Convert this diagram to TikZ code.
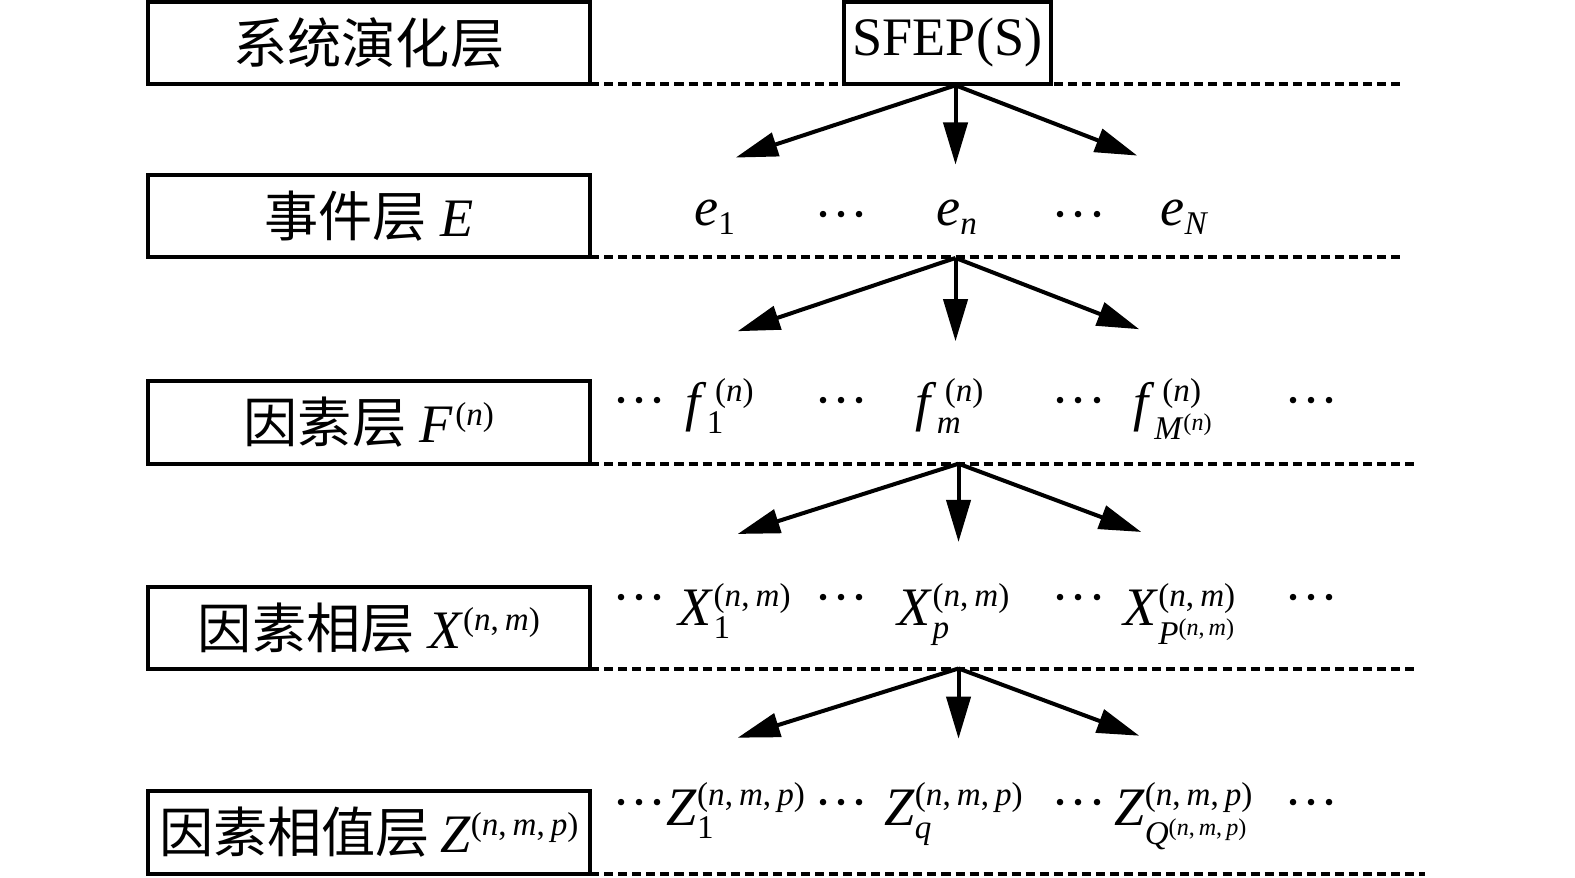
\documentclass[tikz,border=0pt]{standalone}
\usepackage{fontspec}
\setmainfont{Liberation Serif}
\newfontfamily\cjk{Noto Sans CJK SC}
\usetikzlibrary{arrows.meta}
\newcommand\ssz{\fontsize{16.5}{16.5}\selectfont}
\newcommand\sssz{\fontsize{12}{12}\selectfont}
\newcommand\ii[1]{\textit{#1}}
% #1 kern before sup, #2 base, #3 sub, #4 sub drop, #5 sup
\newcommand\SSg[5]{#2\begingroup\ssz
  \setbox0\hbox{\raisebox{-#4}{#3}}%
  \setbox2\hbox{\kern#1\raisebox{9.5pt}{#5}}%
  \ifdim\wd0>\wd2 \rlap{\box2}\box0 \else\rlap{\box0}\box2 \fi\endgroup}
\newcommand\SubSup[4][0pt]{\SSg{#1}{#2}{#3}{6.5pt}{#4}}
\newcommand\SubSupL[4][0pt]{\SSg{#1}{#2}{#3}{9.5pt}{#4}}
\newcommand\Sub[2]{#1\begingroup\ssz\raisebox{-4.5pt}{#2}\endgroup}
\newcommand\Sup[3][0pt]{#2\begingroup\ssz\kern#1\raisebox{8.75pt}{#3}\endgroup}
\newcommand\dd{\textperiodcentered\textperiodcentered\textperiodcentered}
\newcommand\cm{,\kern3pt}
\newcommand\scm{,\kern2pt}
\begin{document}
\begin{tikzpicture}[x=0.5pt,y=-0.5pt,
  font=\fontsize{27}{32}\selectfont,
  layerbox/.style={draw,line width=2pt,minimum width=220.5pt,minimum height=41pt,inner sep=0pt,outer sep=0pt,fill=white},
  lvl/.style={line width=2pt,dash pattern=on 4.5pt off 2.5pt},
  arr/.style={line width=2pt,-{Triangle[length=21pt,width=12pt]}},
  item/.style={anchor=base,inner sep=0pt},
]
\useasboundingbox (0,0) rectangle (1569.2,873.8);

% layer boxes
\node[layerbox] (b1) at (367.5,42.5) {{\cjk 系统演化层}};
\node[layerbox] (b2) at (367.5,215.5) {{\cjk 事件层} \ii{E}};
\node[layerbox] (b3) at (367.5,421) {{\cjk 因素层} \Sup[1pt]{\ii{F}}{(\ii{n})}};
\node[layerbox] (b4) at (367.5,625.5) {{\cjk 因素相层} \Sup{\ii{X}}{(\ii{n}\cm\ii{m})}};
\node[layerbox] (b5) at (367.5,829.5) {{\cjk 因素相值层}\kern5pt\Sup{\ii{Z}}{(\ii{n}\cm\ii{m}\cm\ii{p})}};

% dashed level lines
\coordinate (d1) at (1397,83);
\coordinate (d2) at (1400,256);
\coordinate (d3) at (1410,461);
\coordinate (d4) at (1413,666);
\coordinate (d5) at (1420,870);
\draw[lvl] (b1.south east) -- (b1.south east -| d1);
\draw[lvl] (b2.south east) -- (b2.south east -| d2);
\draw[lvl] (b3.south east) -- (b3.south east -| d3);
\draw[lvl] (b4.south east) -- (b4.south east -| d4);
\draw[lvl] (b5.south east) -- (b5.south east -| d5);

% top node
\node[layerbox,minimum width=103pt] (s) at (944,42.5) {SFEP(S)};

% arrows
\coordinate (o1) at (952,85);
\coordinate (o2) at (952,257);
\coordinate (o3) at (955,462);
\coordinate (o4) at (955,666);
\coordinate (t1l) at (733,157); \coordinate (t1m) at (952,164); \coordinate (t1r) at (1133,155);
\coordinate (t2l) at (735,330); \coordinate (t2m) at (952,340); \coordinate (t2r) at (1135,328);
\coordinate (t3l) at (735,532); \coordinate (t3m) at (955,540); \coordinate (t3r) at (1137,530);
\coordinate (t4l) at (735,735); \coordinate (t4m) at (955,736); \coordinate (t4r) at (1135,733);
\foreach \i in {1,2,3,4}{
  \draw[arr] (o\i) -- (t\i l);
  \draw[arr] (o\i) -- (t\i m);
  \draw[arr] (o\i) -- (t\i r);
}

% row E
\node[item] (e1) at (712,225) {\Sub{\ii{e}}{1}};
\node[item] (ed1) at (838,232) {\dd};
\node[item] (en) at (953,225) {\Sub{\ii{e}}{\ii{n}}};
\node[item] (ed2) at (1075,232) {\dd};
\node[item] (eN) at (1180,225) {\Sub{\ii{e}}{\ii{N}}};

% row F
\node[item] (fd0) at (637,417) {\dd};
\node[item] (f1) at (717,419) {\SubSup[4pt]{\ii{f}}{1}{(\ii{n})}};
\node[item] (fd1) at (838,417) {\dd};
\node[item] (fm) at (946,419) {\SubSup[4pt]{\ii{f}}{\ii{m}}{(\ii{n})}};
\node[item] (fd2) at (1075,417) {\dd};
\node[item] (fM) at (1168,419) {\SubSupL[4pt]{\ii{f}}{\ii{M}\raisebox{4.5pt}{\sssz(\ii{n})}}{(\ii{n})}};
\node[item] (fd3) at (1307,417) {\dd};

% row X
\node[item] (xd0) at (637,613) {\dd};
\node[item] (x1) at (732,623) {\SubSup{\ii{X}}{1}{(\ii{n}\cm\ii{m})}};
\node[item] (xd1) at (838,613) {\dd};
\node[item] (xp) at (950,623) {\SubSup{\ii{X}}{\ii{p}}{(\ii{n}\cm\ii{m})}};
\node[item] (xd2) at (1075,613) {\dd};
\node[item] (xP) at (1175,623) {\SubSupL{\ii{X}}{\ii{P}\raisebox{4.5pt}{\sssz(\ii{n}\scm\ii{m})}}{(\ii{n}\cm\ii{m})}};
\node[item] (xd3) at (1307,613) {\dd};

% row Z
\node[item] (zd0) at (637,817) {\dd};
\node[item] (z1) at (733,822) {\SubSup{\ii{Z}}{1}{(\ii{n}\cm\ii{m}\cm\ii{p})}};
\node[item] (zd1) at (838,817) {\dd};
\node[item] (zq) at (950,822) {\SubSup{\ii{Z}}{\ii{q}}{(\ii{n}\cm\ii{m}\cm\ii{p})}};
\node[item] (zd2) at (1075,817) {\dd};
\node[item] (zQ) at (1179,822) {\SubSupL{\ii{Z}}{\ii{Q}\raisebox{4.5pt}{\sssz(\ii{n}\scm\ii{m}\scm\ii{p})}}{(\ii{n}\cm\ii{m}\cm\ii{p})}};
\node[item] (zd3) at (1307,817) {\dd};
\end{tikzpicture}
\end{document}
